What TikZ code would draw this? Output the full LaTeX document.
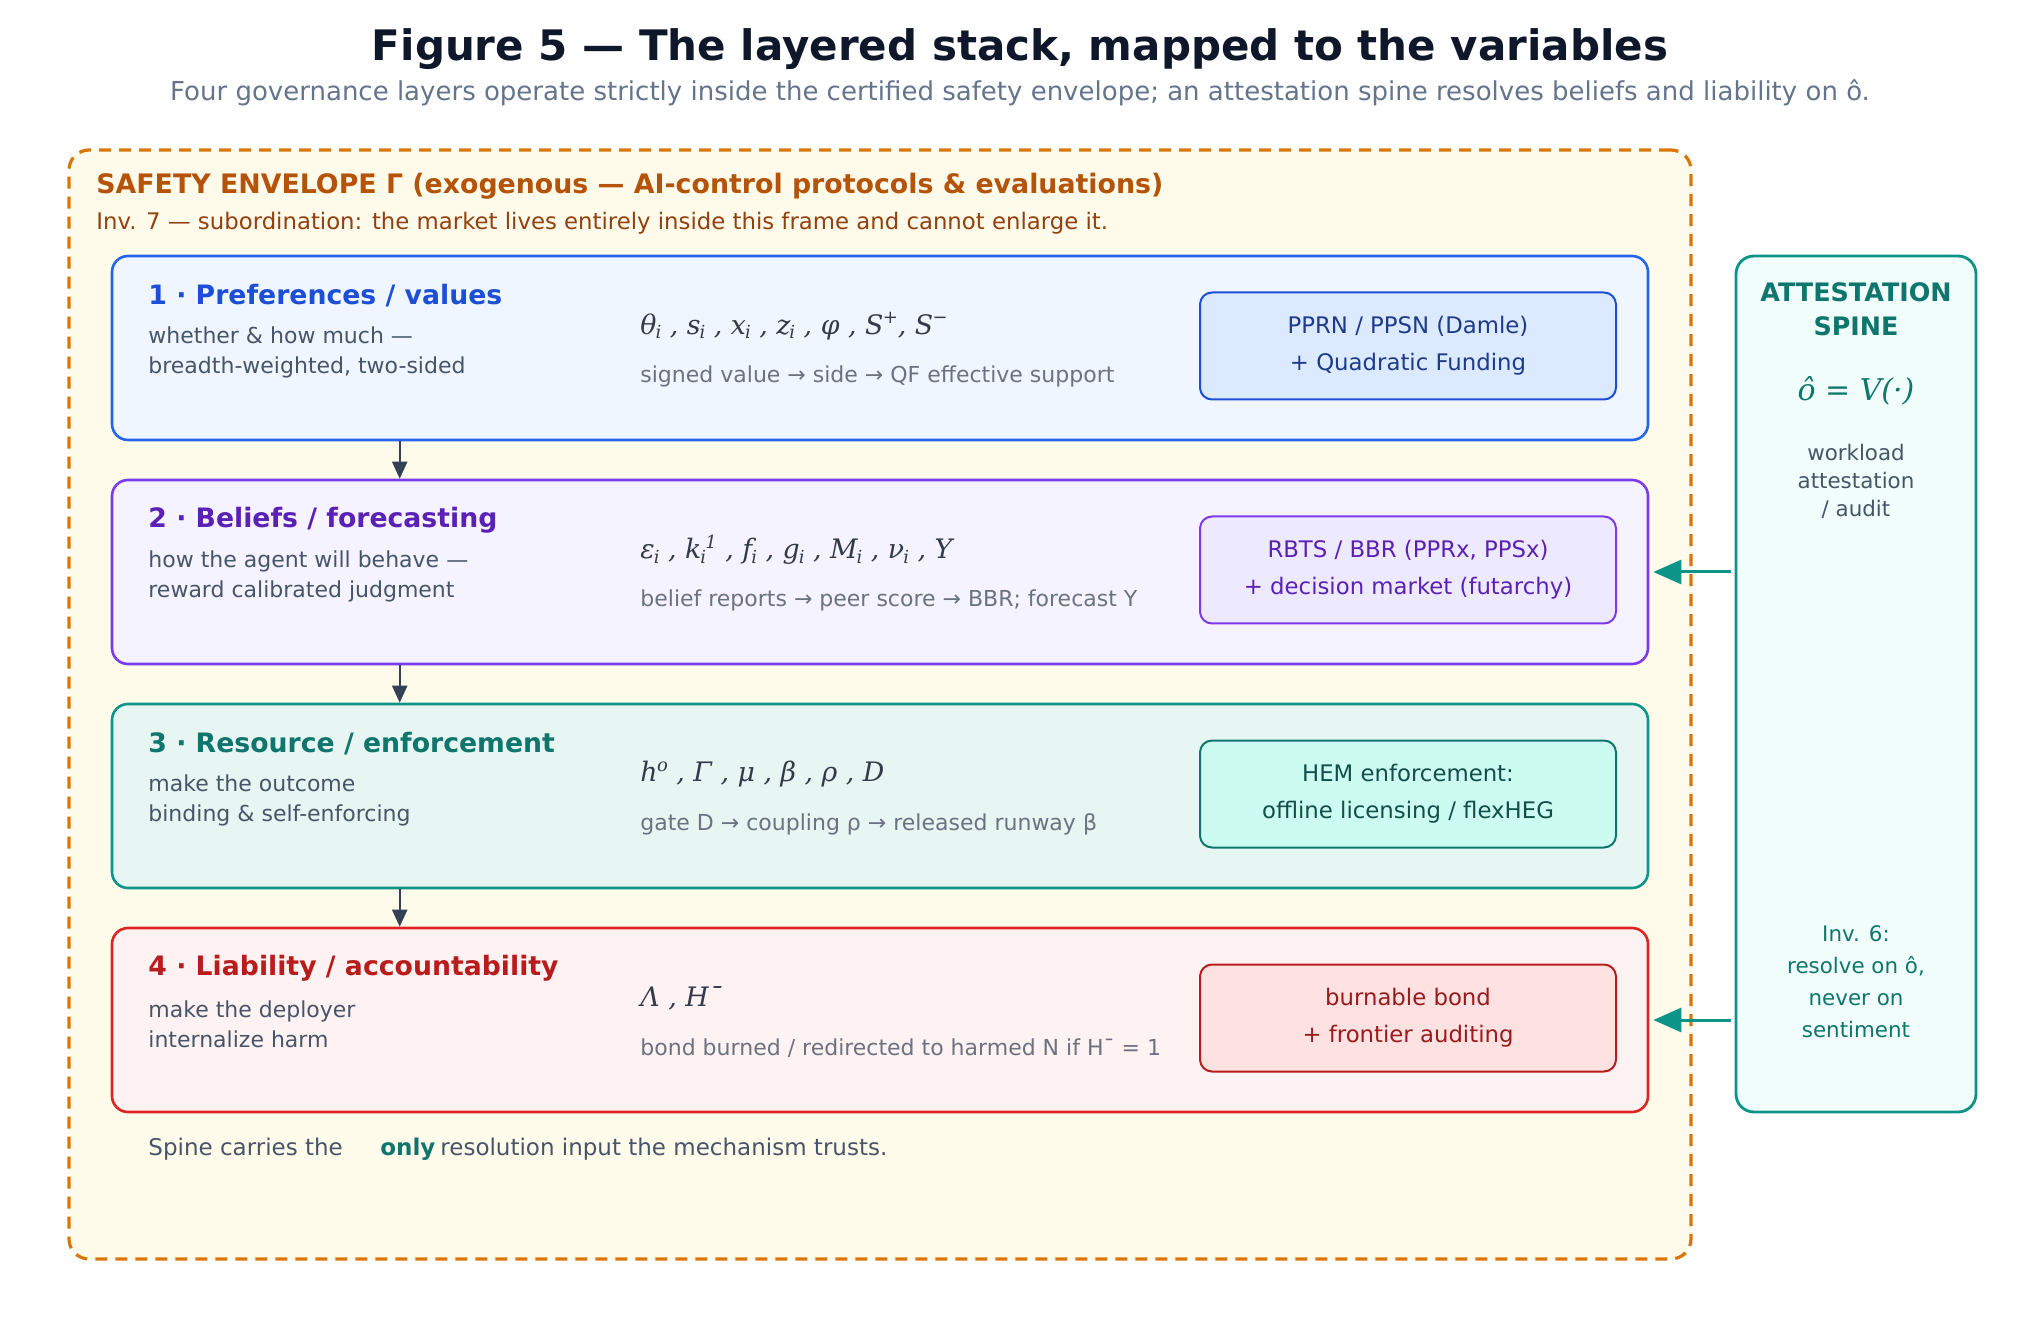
\documentclass[tikz,border=0pt]{standalone}
\usepackage{fontspec}
\setmainfont{DejaVu Sans}
\newfontfamily\symfont{DejaVu Serif}
\usepackage{tikz}
\usetikzlibrary{arrows.meta, positioning, backgrounds}

\definecolor{ink}{HTML}{0F172A}
\definecolor{slate}{HTML}{64748B}
\definecolor{textgray}{HTML}{475569}
\definecolor{subgray}{HTML}{6B7280}
\definecolor{arrowgray}{HTML}{334155}
\definecolor{envdraw}{HTML}{D97706}
\definecolor{envfill}{HTML}{FFFBEA}
\definecolor{envtitle}{HTML}{B45309}
\definecolor{envinv}{HTML}{92400E}
\definecolor{bluedraw}{HTML}{2563EB}
\definecolor{bluefill}{HTML}{EFF6FF}
\definecolor{bluetitle}{HTML}{1D4ED8}
\definecolor{bluemech}{HTML}{DBEAFE}
\definecolor{bluetext}{HTML}{1E3A8A}
\definecolor{violetdraw}{HTML}{7C3AED}
\definecolor{violetfill}{HTML}{F5F3FF}
\definecolor{violettitle}{HTML}{5B21B6}
\definecolor{violetmech}{HTML}{EDE9FE}
\definecolor{tealdraw}{HTML}{0D9488}
\definecolor{tealfill}{HTML}{E7F5F3}
\definecolor{tealtitle}{HTML}{0F766E}
\definecolor{tealmech}{HTML}{CCFBF1}
\definecolor{tealtext}{HTML}{134E4A}
\definecolor{spinefill}{HTML}{F0FDFA}
\definecolor{reddraw}{HTML}{DC2626}
\definecolor{redfill}{HTML}{FEF2F2}
\definecolor{redtitle}{HTML}{B91C1C}
\definecolor{redmech}{HTML}{FEE2E2}
\definecolor{redtext}{HTML}{991B1B}

% small index next to a symbol
\newcommand{\idx}[1]{\kern-0.5pt\raisebox{-0.35ex}{\fontsize{9}{9}\selectfont #1}}
\newcommand{\hgh}[1]{\kern-0.3pt\raisebox{0.75ex}{\fontsize{9}{9}\selectfont #1}}

\tikzset{
  layer/.style={draw, rounded corners=8pt, line width=1.3pt, minimum width=768pt, minimum height=92pt, inner sep=0pt},
  mech/.style={draw, rounded corners=6pt, line width=1pt, minimum width=208pt, minimum height=53.5pt, align=center, inner sep=0pt, font=\fontsize{11.4}{18.5}\selectfont},
  ltitle/.style={anchor=west, inner sep=0pt, font=\fontsize{13.35}{15}\selectfont\bfseries},
  ldesc/.style={anchor=west, inner sep=0pt, align=left, text=textgray, font=\fontsize{11}{15}\selectfont},
  lsym/.style={anchor=west, inner sep=0pt, text=ink!85, font=\fontsize{13.4}{16}\selectfont\symfont\itshape},
  lsub/.style={anchor=west, inner sep=0pt, text=subgray, font=\fontsize{11}{13}\selectfont},
  down/.style={draw=arrowgray, line width=1.1pt, -{Triangle[length=8.5pt, width=7.5pt]}},
  feed/.style={draw=tealdraw, line width=1.5pt, -{Triangle[length=14pt, width=12pt]}, shorten >=2pt, shorten <=2pt},
  foot/.style={anchor=base west, inner sep=0pt, text=textgray, font=\fontsize{11.5}{13}\selectfont}
}

\begin{document}
\begin{tikzpicture}[x=0.5pt, y=-0.5pt]
\useasboundingbox (0,0) rectangle (2040,1320);
\fill[white] (0,0) rectangle (2040,1320);

% title
\node[text=ink, font=\fontsize{21}{24}\selectfont\bfseries] (title) at (1020,49) {Figure 5 — The layered stack, mapped to the variables};
\node[text=slate, font=\fontsize{13}{15}\selectfont] (subtitle) at (1020,93) {Four governance layers operate strictly inside the certified safety envelope; an attestation spine resolves beliefs and liability on ô.};

% safety envelope
\node[draw=envdraw, fill=envfill, dash pattern=on 6pt off 4pt, line width=1.6pt, rounded corners=10pt, minimum width=811pt, minimum height=554.5pt] (env) at (880,704.5) {};
\node[anchor=west, inner sep=0pt, text=envtitle, font=\fontsize{13.4}{15}\selectfont\bfseries] (envtitle) at (96,186) {SAFETY ENVELOPE Γ (exogenous — AI-control protocols \& evaluations)};
\node[anchor=west, inner sep=0pt, text=envinv, font=\fontsize{11.4}{13}\selectfont] (envinv) at (96,223) {Inv. 7 — subordination: the market lives entirely inside this frame and cannot enlarge it.};

% layer 1
\node[layer, draw=bluedraw, fill=bluefill] (L1) at (880,348) {};
\node[ltitle, text=bluetitle] (t1) at (148,296) {1 · Preferences / values};
\node[ldesc] (d1) at (148,352) {whether \& how much —\\breadth-weighted, two-sided};
\node[lsym] (s1) at (640,326) {θ\idx{i} , s\idx{i} , x\idx{i} , z\idx{i} , φ , S\hgh{+}, S\hgh{−}};
\node[lsub] (u1) at (640,376) {signed value → side → QF effective support};
\node[mech, draw=bluetitle, fill=bluemech, text=bluetext] (M1) at (1408,346) {PPRN / PPSN (Damle)\\+ Quadratic Funding};

% layer 2
\node[layer, draw=violetdraw, fill=violetfill] (L2) at (880,572) {};
\node[ltitle, text=violettitle] (t2) at (148,520) {2 · Beliefs / forecasting};
\node[ldesc] (d2) at (148,576) {how the agent will behave —\\reward calibrated judgment};
\node[lsym] (s2) at (640,550) {ε\idx{i} , k\idx{i}\hgh{1} , f\idx{i} , g\idx{i} , M\idx{i} , ν\idx{i} , Y};
\node[lsub] (u2) at (640,600) {belief reports → peer score → BBR; forecast Y};
\node[mech, draw=violetdraw, fill=violetmech, text=violettitle] (M2) at (1408,570) {RBTS / BBR (PPRx, PPSx)\\+ decision market (futarchy)};

% layer 3
\node[layer, draw=tealdraw, fill=tealfill] (L3) at (880,796) {};
\node[ltitle, text=tealtitle] (t3) at (148,744) {3 · Resource / enforcement};
\node[ldesc] (d3) at (148,800) {make the outcome\\binding \& self-enforcing};
\node[lsym] (s3) at (640,774) {h\hgh{o} , Γ , μ , β , ρ , D};
\node[lsub] (u3) at (640,824) {gate D → coupling ρ → released runway β};
\node[mech, draw=tealtitle, fill=tealmech, text=tealtext] (M3) at (1408,794) {HEM enforcement:\\offline licensing / flexHEG};

% layer 4
\node[layer, draw=reddraw, fill=redfill] (L4) at (880,1020) {};
\node[ltitle, text=redtitle] (t4) at (148,968) {4 · Liability / accountability};
\node[ldesc] (d4) at (148,1024) {make the deployer\\internalize harm};
\node[lsym] (s4) at (640,998) {Λ , H¯};
\node[lsub] (u4) at (640,1048) {bond burned / redirected to harmed N if H¯ = 1};
\node[mech, draw=redtitle, fill=redmech, text=redtext] (M4) at (1408,1018) {burnable bond\\+ frontier auditing};

% layer flow
\draw[down] ([xshift=144.5pt]L1.south west) -- ([xshift=144.5pt]L2.north west);
\draw[down] ([xshift=144.5pt]L2.south west) -- ([xshift=144.5pt]L3.north west);
\draw[down] ([xshift=144.5pt]L3.south west) -- ([xshift=144.5pt]L4.north west);

% attestation spine
\node[draw=tealdraw, fill=spinefill, line width=1.4pt, rounded corners=9pt, minimum width=120pt, minimum height=428pt] (spine) at (1856,684) {};
\node[align=center, text=tealtitle, font=\fontsize{12.7}{17}\selectfont\bfseries] (sptitle) at (1856,309) {ATTESTATION\\SPINE};
\node[text=tealtitle, font=\fontsize{15}{18}\selectfont\symfont\itshape] (spform) at (1856,391) {ô = V(·)};
\node[align=center, text=textgray, font=\fontsize{10.7}{14}\selectfont] (spwork) at (1856,481) {workload\\attestation\\/ audit};
\node[align=center, text=tealtitle, font=\fontsize{10.7}{16}\selectfont] (spinv) at (1856,982) {Inv. 6:\\resolve on ô,\\never on\\sentiment};

\draw[feed] (spine.west |- L2.east) -- (L2.east);
\draw[feed] (spine.west |- L4.east) -- (L4.east);

% footer note
\node[foot] (f1) at (148,1155) {Spine carries the};
\node[foot, text=tealtitle, font=\fontsize{11.5}{13}\selectfont\bfseries] (f2) at (380,1155) {only};
\node[foot] (f3) at (440,1155) {resolution input the mechanism trusts.};
\end{tikzpicture}
\end{document}
